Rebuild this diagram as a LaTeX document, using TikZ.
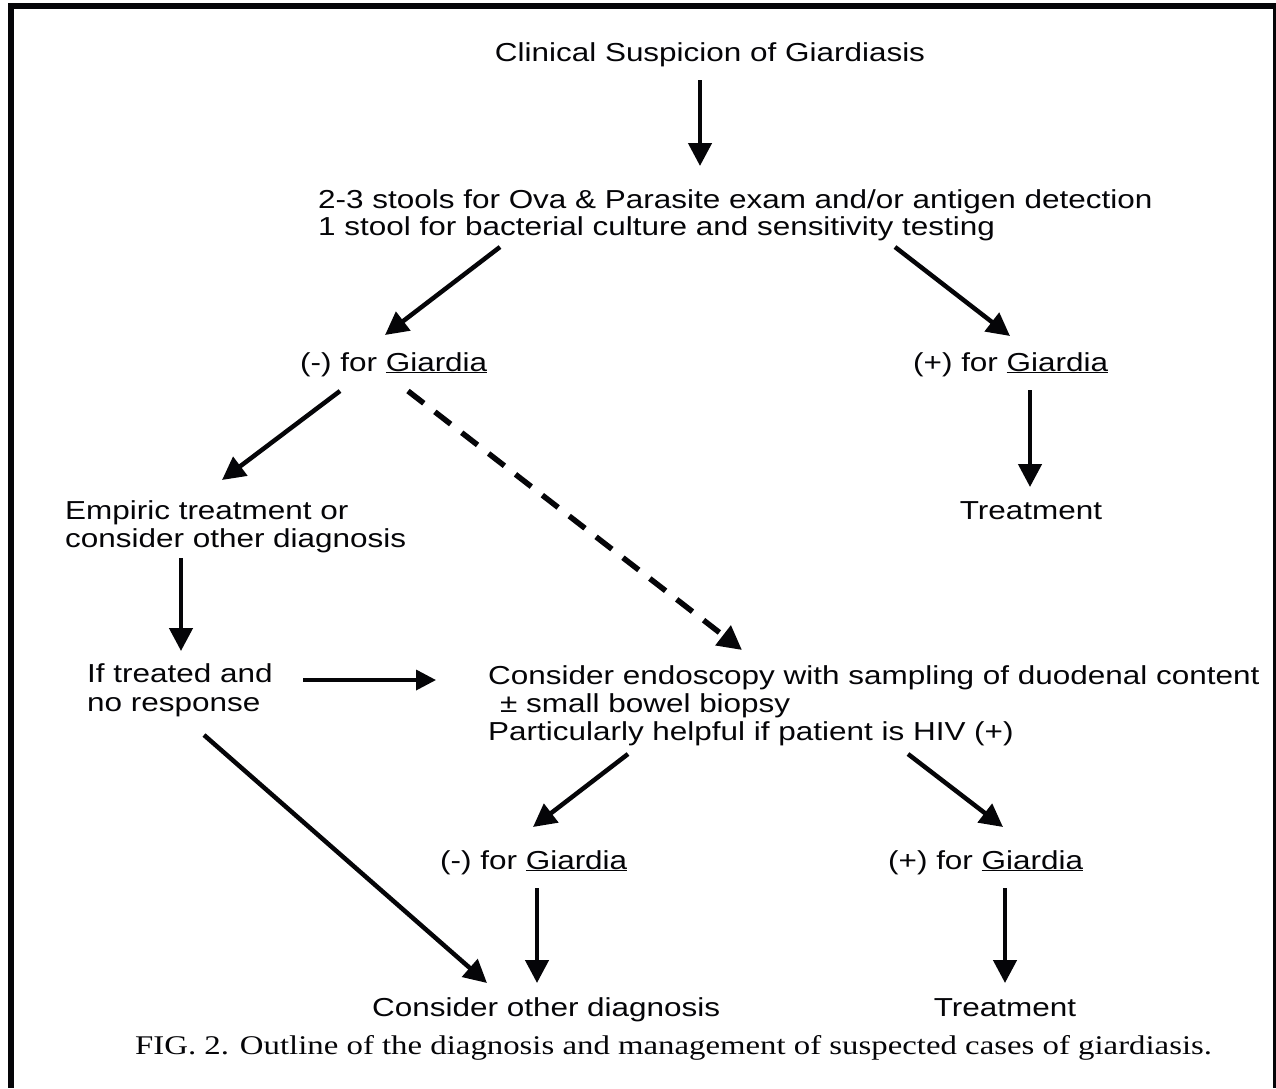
\documentclass[tikz,border=0pt]{standalone}
\usepackage{fontspec}
\setmainfont{Liberation Sans}[FakeStretch=1.21]
\newfontfamily\capfont{Liberation Serif}[FakeStretch=1.215]
\usetikzlibrary{arrows.meta}
\definecolor{ink}{HTML}{050508}
\begin{document}
\begin{tikzpicture}[x=1pt,y=-1pt,
  txt/.style={inner sep=0pt, text=ink, font=\fontsize{26pt}{28pt}\selectfont},
  capt/.style={inner sep=0pt, text=ink, font=\capfont\fontsize{27pt}{30pt}\selectfont},
  arr/.style={draw=ink, line width=4.5pt, -{Triangle[length=23pt,width=23pt]}},
  harr/.style={draw=ink, line width=3.5pt, -{Triangle[length=20pt,width=20pt]}},
  dsh/.style={draw=ink, line width=5.5pt, dash pattern=on 20pt off 14pt, -{Triangle[length=24pt,width=24pt]}},
  framebar/.style={fill=ink, draw=none}]
\useasboundingbox (0,0) rectangle (1276,1088);
\fill[white] (0,0) rectangle (1276,1088);
% frame
\path[framebar] (8,3) rectangle (1276,9);
\path[framebar] (8,3) rectangle (14,1088);
\path[framebar] (1273,3) rectangle (1276,1088);

% nodes
\node[txt, anchor=base] (clin) at (710,61) {Clinical Suspicion of Giardiasis};
\node[txt, anchor=base west] (stoolsA) at (318,208) {2-3 stools for Ova \& Parasite exam and/or antigen detection};
\node[txt, anchor=base west] (stoolsB) at (318,235) {1 stool for bacterial culture and sensitivity testing};
\node[txt, anchor=base west] (negA) at (300,371) {(-) for \underline{Giardia}};
\node[txt, anchor=base west] (posA) at (913,371) {(+) for \underline{Giardia}};
\node[txt, anchor=base west] (empA) at (65,519) {Empiric treatment or};
\node[txt, anchor=base west] (empB) at (65,547) {consider other diagnosis};
\node[txt, anchor=base] (treatA) at (1031,519) {Treatment};
\node[txt, anchor=base west] (ifA) at (87,682) {If treated and};
\node[txt, anchor=base west] (ifB) at (87,711) {no response};
\node[txt, anchor=base west] (endoA) at (488,684) {Consider endoscopy with sampling of duodenal content};
\node[txt, anchor=base west] (endoB) at (500,712) {\char"00B1\ small bowel biopsy};
\node[txt, anchor=base west] (endoC) at (488,740) {Particularly helpful if patient is HIV (+)};
\node[txt, anchor=base west] (negB) at (440,869) {(-) for \underline{Giardia}};
\node[txt, anchor=base west] (posB) at (888,869) {(+) for \underline{Giardia}};
\node[txt, anchor=base west] (other) at (372,1016) {Consider other diagnosis};
\node[txt, anchor=base] (treatB) at (1005,1016) {Treatment};
\node[capt, anchor=base west] (cap) at (135,1054) {FIG. 2. Outline of the diagnosis and management of suspected cases of giardiasis.};

% connector end points
\coordinate (a1s) at (700,80);   \coordinate (a1e) at (700,166);
\coordinate (a2s) at (500,247);  \coordinate (a2e) at (385,335);
\coordinate (a3s) at (895,247);  \coordinate (a3e) at (1010,336);
\coordinate (a4s) at (340,391);  \coordinate (a4e) at (222,480);
\coordinate (a5s) at (408,391);  \coordinate (a5e) at (742,650);
\coordinate (a6s) at (1030,390); \coordinate (a6e) at (1030,487);
\coordinate (a7s) at (181,558);  \coordinate (a7e) at (181,651);
\coordinate (a8s) at (303,680);  \coordinate (a8e) at (436,680);
\coordinate (a9s) at (628,754);  \coordinate (a9e) at (533,827);
\coordinate (a10s) at (908,754); \coordinate (a10e) at (1003,827);
\coordinate (a11s) at (204,735); \coordinate (a11e) at (487,983);
\coordinate (a12s) at (537,888); \coordinate (a12e) at (537,983);
\coordinate (a13s) at (1005,888); \coordinate (a13e) at (1005,983);

\draw[arr] (a1s) -- (a1e);
\draw[arr] (a2s) -- (a2e);
\draw[arr] (a3s) -- (a3e);
\draw[arr] (a4s) -- (a4e);
\draw[dsh] (a5s) -- (a5e);
\draw[arr] (a6s) -- (a6e);
\draw[arr] (a7s) -- (a7e);
\draw[harr] (a8s) -- (a8e);
\draw[arr] (a9s) -- (a9e);
\draw[arr] (a10s) -- (a10e);
\draw[arr] (a11s) -- (a11e);
\draw[arr] (a12s) -- (a12e);
\draw[arr] (a13s) -- (a13e);
\end{tikzpicture}
\end{document}
